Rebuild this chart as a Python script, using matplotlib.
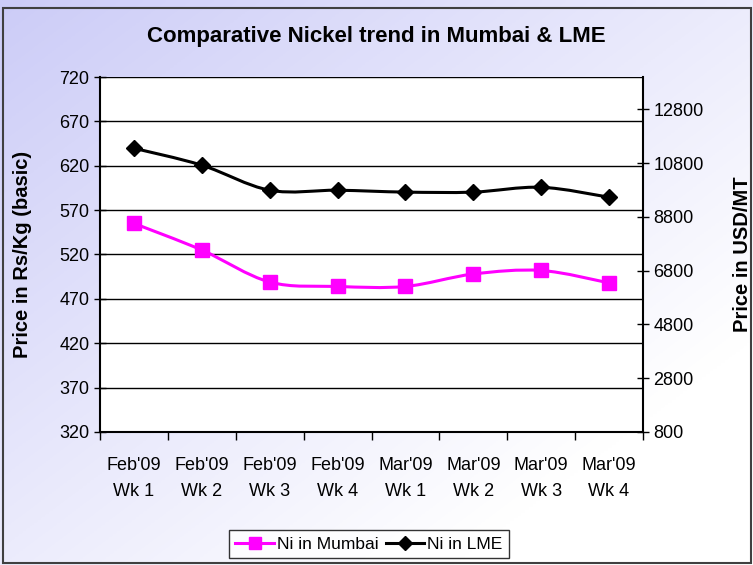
import numpy as np
import matplotlib.pyplot as plt
from matplotlib.path import Path
from matplotlib.patches import PathPatch, Rectangle
from matplotlib.lines import Line2D

plt.rcParams['font.family'] = ['Liberation Sans', 'DejaVu Sans']

weeks = ["Feb'09\nWk 1", "Feb'09\nWk 2", "Feb'09\nWk 3", "Feb'09\nWk 4",
         "Mar'09\nWk 1", "Mar'09\nWk 2", "Mar'09\nWk 3", "Mar'09\nWk 4"]
mumbai = [555, 525, 489, 484, 484, 498, 502, 488]
lme = [11350, 10720, 9790, 9790, 9720, 9720, 9900, 9530]

left_ticks = [320, 370, 420, 470, 520, 570, 620, 670, 720]
right_ticks = [800, 2800, 4800, 6800, 8800, 10800, 12800]


def smooth_path(xs, ys):
    # Catmull-Rom style smoothing drawn as cubic Bezier segments (like Excel "smoothed line")
    xs = np.asarray(xs, float)
    ys = np.asarray(ys, float)
    n = len(xs)
    verts = [(xs[0], ys[0])]
    codes = [Path.MOVETO]
    for i in range(n - 1):
        i0 = max(i - 1, 0)
        i3 = min(i + 2, n - 1)
        c1 = (xs[i] + (xs[i + 1] - xs[i0]) / 6, ys[i] + (ys[i + 1] - ys[i0]) / 6)
        c2 = (xs[i + 1] - (xs[i3] - xs[i]) / 6, ys[i + 1] - (ys[i3] - ys[i]) / 6)
        verts += [c1, c2, (xs[i + 1], ys[i + 1])]
        codes += [Path.CURVE4] * 3
    return Path(verts, codes)


fig = plt.figure(figsize=(7.53, 5.65), dpi=100)

# gradient background
bg = fig.add_axes([0, 0, 1, 1], zorder=-10)
gx, gy = np.meshgrid(np.linspace(0, 1, 200), np.linspace(0, 1, 200))
t = np.clip((gx + gy) / 1.6, 0, 1)
c0 = np.array([0.80, 0.80, 0.97])
c1 = np.array([1.0, 1.0, 1.0])
img = c0[None, None, :] * (1 - t[..., None]) + c1[None, None, :] * t[..., None]
bg.imshow(img, extent=[0, 1, 0, 1], aspect='auto', origin='upper')
bg.set_axis_off()
fig.patches.append(Rectangle((0.004, 0.003), 0.993, 0.983, transform=fig.transFigure,
                             fill=False, edgecolor='#404040', linewidth=1.5))

ax = fig.add_axes([100 / 753, 133 / 565, 543 / 753, 355 / 565])
ax.set_facecolor('white')
x = np.arange(len(weeks)) + 0.5
ax.set_xlim(0, len(weeks))
ax.set_ylim(320, 720)
ax.set_yticks(left_ticks)
ax.set_xticks(np.arange(len(weeks) + 1))
ax.set_xticklabels([])
ax.set_xticks(x, minor=True)
ax.set_xticklabels(weeks, minor=True, fontsize=13, linespacing=1.7)
ax.tick_params(axis='x', which='minor', length=0, pad=18)
ax.tick_params(axis='x', which='major', direction='out', length=6, width=1)
ax.tick_params(axis='y', direction='inout', length=8, width=1, labelsize=13)
ax.grid(axis='y', color='black', linewidth=1)
for s in ['top', 'right']:
    ax.spines[s].set_visible(False)
ax.spines['left'].set_linewidth(1.5)
ax.spines['bottom'].set_linewidth(1.5)
ax.set_ylabel('Price in Rs/Kg (basic)', fontsize=14.5, fontweight='bold')
ax.yaxis.set_label_coords(-68 / 543, 0.5)

ax.add_patch(PathPatch(smooth_path(x, mumbai), facecolor='none', edgecolor='#FF00FF',
                       linewidth=2.2, zorder=3))
ax.plot(x, mumbai, linestyle='none', marker='s', markersize=10, color='#FF00FF', zorder=4)

ax2 = ax.twinx()
ax2.set_ylim(800, 14000)
ax2.set_yticks(right_ticks)
ax2.tick_params(axis='y', direction='inout', length=8, width=1, labelsize=13)
for s in ['top', 'left', 'bottom']:
    ax2.spines[s].set_visible(False)
ax2.spines['right'].set_linewidth(1.5)
ax2.set_ylabel('Price in USD/MT', fontsize=14.5, fontweight='bold')
ax2.yaxis.set_label_coords(633 / 543, 0.5)
ax2.add_patch(PathPatch(smooth_path(x, lme), facecolor='none', edgecolor='black',
                        linewidth=2.2, zorder=3))
ax2.plot(x, lme, linestyle='none', marker='D', markersize=8, color='black', zorder=4)

fig.text(0.5, 0.935, 'Comparative Nickel trend in Mumbai & LME', ha='center', va='center',
         fontsize=16, fontweight='bold')

handles = [Line2D([], [], color='#FF00FF', marker='s', markersize=9, linewidth=2.2),
           Line2D([], [], color='black', marker='D', markersize=7, linewidth=2.2)]
leg = fig.legend(handles, ['Ni in Mumbai', 'Ni in LME'], loc='center', ncol=2,
                 bbox_to_anchor=(369 / 753, 1 - 544 / 565), fontsize=12.5, frameon=True,
                 fancybox=False, edgecolor='black', handlelength=2.2, handletextpad=0.2,
                 columnspacing=0.4, borderpad=0.35)
leg.get_frame().set_linewidth(1)

fig.savefig('out.png', dpi=100)
